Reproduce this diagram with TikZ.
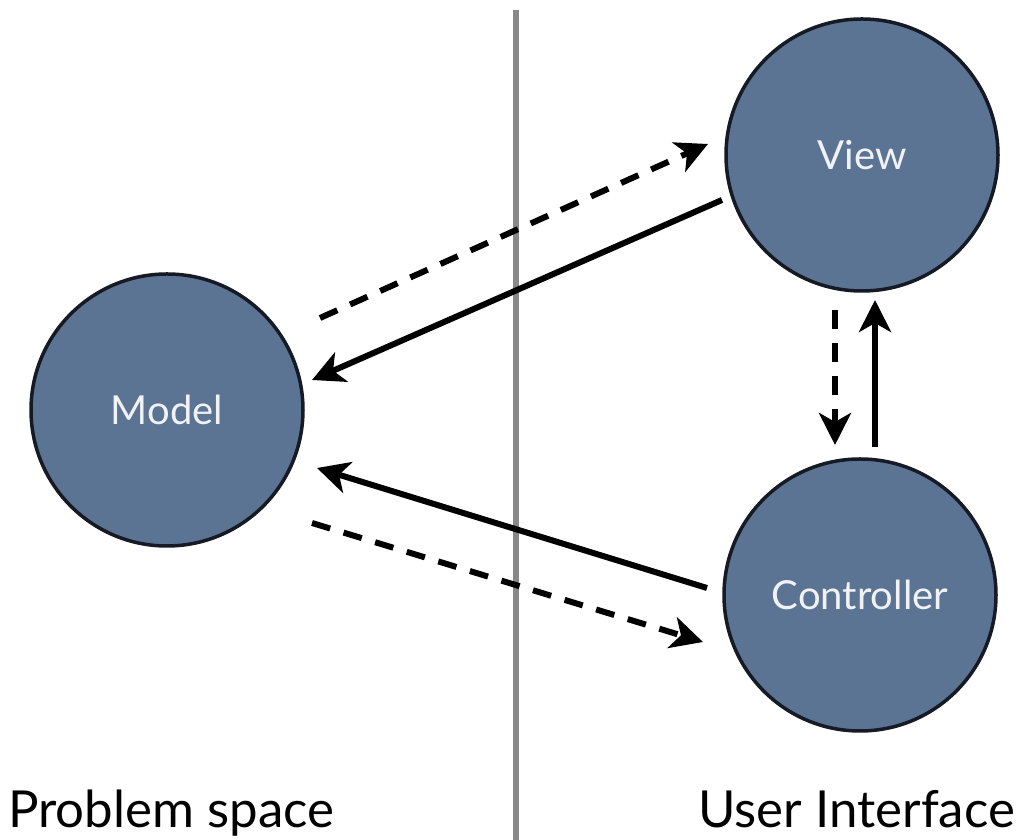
\documentclass[tikz,border=0pt]{standalone}
\usepackage{fontspec}
\setmainfont{Lato}
\usetikzlibrary{arrows.meta,calc}

\definecolor{slate}{RGB}{92,116,148}
\definecolor{rim}{RGB}{22,26,36}
\definecolor{divider}{RGB}{136,136,136}
\definecolor{labeltext}{RGB}{240,242,245}

\tikzset{
  x=1pt, y=1pt,
  part/.style={circle, fill=slate, draw=rim, line width=3.5pt,
    minimum size=272pt, inner sep=0pt, text=labeltext,
    font=\fontsize{40}{48}\selectfont},
  side/.style={font=\fontsize{51}{58}\selectfont, text=black, inner sep=0pt},
  tip/.style={-{Stealth[length=32pt, width=32pt, inset=9pt]}},
  call/.style={tip, line width=6pt, black},
  notify/.style={tip, line width=6pt, black, dash pattern=on 19pt off 14pt},
}

\begin{document}
\begin{tikzpicture}
  \useasboundingbox (0,0) rectangle (1021,840);

  % divider between the two spaces
  \coordinate (divtop) at (516,830);
  \coordinate (divbot) at (516,0);
  \draw[divider, line width=6pt] (divtop) -- (divbot);

  % the three parts
  \node[part] (model) at (167,430) {Model};
  \node[part] (view) at (862,685) {View};
  \node[part] (controller) at (860,245) {Controller};

  % captions
  \node[side, anchor=base west] (ps) at (8,12) {Problem space};
  \node[side, anchor=base east] (ui) at (1015,12) {User Interface};

  % connectors
  \draw[notify] ($(model.center)+(153,92)$) -- ($(view.center)+(-154,11)$);
  \draw[call] ($(view.center)+(-140,-45)$) -- ($(model.center)+(145,30)$);
  \draw[call] ($(controller.center)+(-153,7)$) -- ($(model.center)+(150,-58)$);
  \draw[notify] ($(model.center)+(145,-113)$) -- ($(controller.center)+(-157,-47)$);
  \draw[notify] ($(view.center)+(-27,-155)$) -- ($(controller.center)+(-25,150)$);
  \draw[call] ($(controller.center)+(15,148)$) -- ($(view.center)+(13,-145)$);
\end{tikzpicture}
\end{document}
